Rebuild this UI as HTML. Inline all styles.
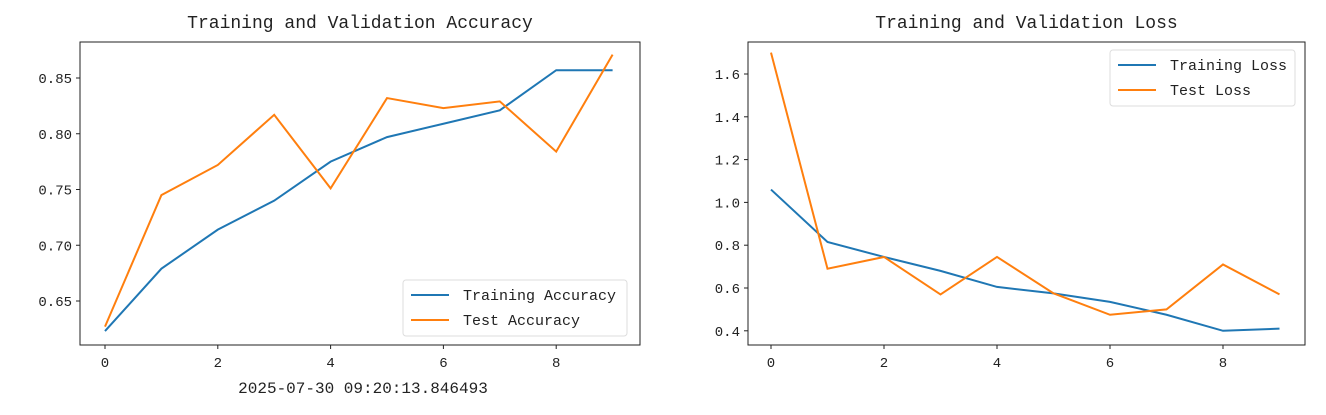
<!DOCTYPE html>
<html><head><meta charset="utf-8"><style>
body{margin:0;background:#fff;}
svg text{font-family:"Liberation Mono","Noto Sans CJK SC",monospace;fill:#222;}
</style></head><body>
<svg id="fig" width="1326" height="410" xmlns="http://www.w3.org/2000/svg"></svg>
<script>
const epochs=[0,1,2,3,4,5,6,7,8,9];
const trainAcc=[0.623,0.679,0.714,0.740,0.775,0.797,0.809,0.821,0.857,0.857];
const testAcc=[0.627,0.745,0.772,0.817,0.751,0.832,0.823,0.829,0.784,0.871];
const trainLoss=[1.06,0.815,0.745,0.68,0.605,0.575,0.535,0.475,0.40,0.41];
const testLoss=[1.70,0.69,0.745,0.57,0.745,0.575,0.475,0.50,0.71,0.57];
const xTicks=[0,2,4,6,8];
const accTicks=[0.65,0.70,0.75,0.80,0.85];
const lossTicks=[0.4,0.6,0.8,1.0,1.2,1.4,1.6];
const accLabels=["0.65","0.70","0.75","0.80","0.85"];
const lossLabels=["0.4","0.6","0.8","1.0","1.2","1.4","1.6"];

const svg=document.getElementById('fig');
const NS='http://www.w3.org/2000/svg';
function mk(tag,attrs,parent){const e=document.createElementNS(NS,tag);for(const k in attrs)e.setAttribute(k,attrs[k]);(parent||svg).appendChild(e);return e;}

function panel(cfg){
  const g=mk('g',{});
  
  
  const X=v=>cfg.x0px+(v-0)*cfg.xUnit;
  const Y=v=>cfg.yRefPx-(v-cfg.yRef)*cfg.yUnit;
  const t=mk('text',{x:(cfg.left+cfg.right)/2,y:28,'text-anchor':'middle','font-size':18},g);
  t.textContent=cfg.title;
  
  
  xTicks.forEach(v=>{
    mk('line',{x1:X(v),x2:X(v),y1:cfg.bottom,y2:cfg.bottom+4,stroke:'#222'},g);
    const tx=mk('text',{x:X(v),y:cfg.bottom+22,'text-anchor':'middle','font-size':14},g);
    tx.textContent=v;
    
    
  });
  cfg.yTicks.forEach((v,i)=>{
    mk('line',{x1:cfg.left-4,x2:cfg.left,y1:Y(v),y2:Y(v),stroke:'#222'},g);
    const ty=mk('text',{x:cfg.left-8,y:Y(v)+5,'text-anchor':'end','font-size':14},g);
    ty.textContent=cfg.yLabels[i];
    
    
  });
  cfg.series.forEach(s=>{
    const p=mk('polyline',{points:epochs.map((e,i)=>X(e)+','+Y(s.data[i])).join(' '),fill:'none',stroke:s.color,'stroke-width':2},g);
    
    
  });
  const fr=mk('rect',{x:cfg.left,y:cfg.top,width:cfg.right-cfg.left,height:cfg.bottom-cfg.top,fill:'none',stroke:'#222','stroke-width':1},g);
  
  
  const L=cfg.legend;
  const lg=mk('g',{},g);
  
  
  mk('rect',{x:L.x,y:L.y,width:L.w,height:56,rx:3,fill:'#fff','fill-opacity':0.8,stroke:'#ddd'},lg);
  cfg.series.forEach((s,i)=>{
    const yy=L.y+15+i*25;
    mk('line',{x1:L.x+8,x2:L.x+46,y1:yy,y2:yy,stroke:s.color,'stroke-width':2},lg);
    const lt=mk('text',{x:L.x+60,y:yy+5,'font-size':15},lg);
    lt.textContent=s.label;
    
    
  });
}
panel({name:'accuracy-chart',title:'Training and Validation Accuracy',left:80,right:640,top:42,bottom:345,
  x0px:105,xUnit:56.4,yRef:0.85,yRefPx:78,yUnit:1115,yTicks:accTicks,yLabels:accLabels,
  series:[{id:'training-accuracy-line',label:'Training Accuracy',data:trainAcc,color:'#1f77b4'},
          {id:'test-accuracy-line',label:'Test Accuracy',data:testAcc,color:'#ff7f0e'}],
  legend:{x:403,y:280,w:224}});
panel({name:'loss-chart',title:'Training and Validation Loss',left:748,right:1305,top:42,bottom:345,
  x0px:771,xUnit:56.5,yRef:1.6,yRefPx:74,yUnit:214,yTicks:lossTicks,yLabels:lossLabels,
  series:[{id:'training-loss-line',label:'Training Loss',data:trainLoss,color:'#1f77b4'},
          {id:'test-loss-line',label:'Test Loss',data:testLoss,color:'#ff7f0e'}],
  legend:{x:1110,y:50,w:185}});
const ts=mk('text',{x:363,y:393,'text-anchor':'middle','font-size':16});
ts.textContent='2025-07-30 09:20:13.846493';


</script>
</body></html>
